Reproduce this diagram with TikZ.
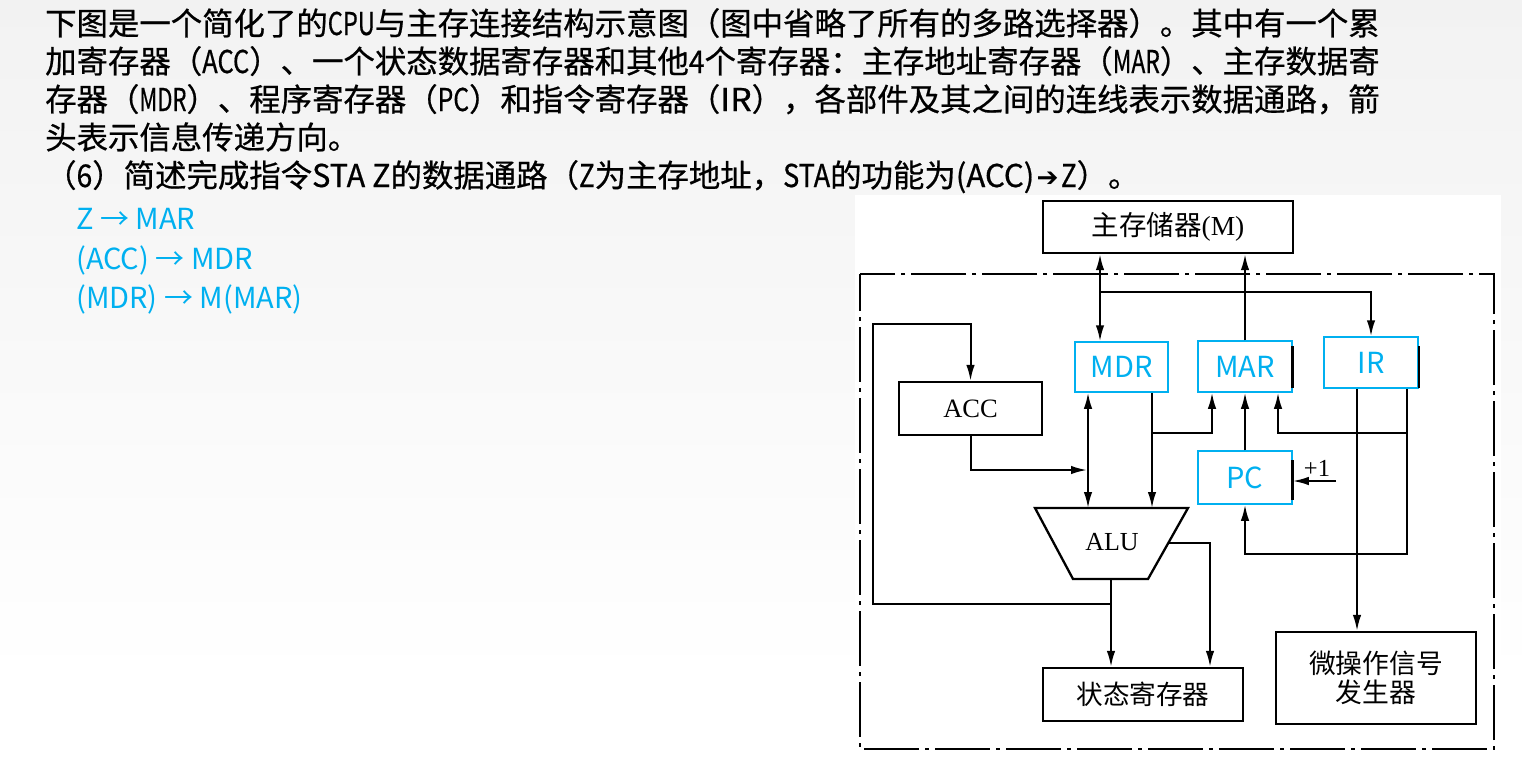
\documentclass[tikz,border=0pt]{standalone}
\usepackage{fontspec}
\usepackage{graphicx}
\setmainfont{Liberation Serif}
\newfontfamily\cjk{Noto Sans CJK SC}
\newfontfamily\cjkb[FakeBold=0.6]{Noto Sans CJK SC}
\newfontfamily\djv{DejaVu Sans}
\usetikzlibrary{arrows.meta}
\definecolor{cy}{HTML}{00B0F0}
\definecolor{bgtop}{HTML}{F2F2F2}
\newcommand{\hw}[2]{\resizebox{#1em}{\height}{#2}}
\tikzset{
  headline/.style={anchor=base west, inner sep=0pt, text=black, font=\cjkb\fontsize{31.4pt}{38pt}\selectfont},
  answer/.style={anchor=base west, inner sep=0pt, text=cy, font=\cjk\fontsize{29pt}{32pt}\selectfont},
  blk/.style={draw=black, line width=2.3pt, inner sep=0pt, fill=white},
  cbox/.style={draw=cy, line width=1.5pt, inner sep=0pt, text=cy, font=\cjk\fontsize{29pt}{30pt}\selectfont},
  wire/.style={line width=2pt, line join=miter},
  arr/.style={wire, -{Latex[length=16pt,width=8.5pt]}},
  darr/.style={wire, {Latex[length=16pt,width=8.5pt]}-{Latex[length=16pt,width=8.5pt]}},
  frame/.style={line width=2.3pt, dash pattern=on 55pt off 6pt on 4pt off 6pt, dash phase=18pt},
  tick/.style={line width=2.6pt}
}
\begin{document}
\begin{tikzpicture}[x=1pt,y=-1pt]
\useasboundingbox (0,0) rectangle (1522,763);
% background
\shade[top color=bgtop, bottom color=white] (0,0) rectangle (1522,680);
\fill[white] (0,680) rectangle (1522,763);
\fill[white] (855,195) rectangle (1501,763);

% heading text
\node[headline] (t1) at (45,35) {下图是一个简化了的\hw{1.5}{CPU}与主存连接结构示意图（图中省略了所有的多路选择器）。其中有一个累};
\node[headline] (t2) at (45,73) {加寄存器（\hw{1.5}{ACC}）、一个状态数据寄存器和其他\hw{0.5}{4}个寄存器：主存地址寄存器（\hw{1.5}{MAR}）、主存数据寄};
\node[headline] (t3) at (45,111) {存器（\hw{1.5}{MDR}）、程序寄存器（\hw{1}{PC}）和指令寄存器（\hw{1}{IR}），各部件及其之间的连线表示数据通路，箭};
\node[headline] (t4) at (45,149) {头表示信息传递方向。};
\node[headline] (t5) at (45,187) {（\hw{0.5}{6}）简述完成指令\hw{2.5}{STA Z}的数据通路（\hw{0.5}{Z}为主存地址，\hw{1.5}{STA}的功能为\hw{2.5}{(ACC)}\makebox[0.85em]{\raisebox{1pt}{\resizebox{0.7em}{!}{\djv ➔}}}\hw{0.5}{Z}）。};

% answer text
\node[answer] (a1) at (76,229.5) {Z → MAR};
\node[answer] (a2) at (76,269) {(ACC) → MDR};
\node[answer] (a3) at (76,308) {(MDR) → M(MAR)};

% CPU frame
\draw[frame] (860,274) rectangle (1494,749);

% components
\node[blk, minimum width=250pt, minimum height=52pt, font=\fontsize{27.5pt}{30pt}\selectfont] (mem) at (1168,227) {{\cjk 主存储器}(M)};
\node[cbox, minimum width=93pt, minimum height=50pt] (mdr) at (1121.5,367) {MDR};
\node[cbox, minimum width=94pt, minimum height=51pt] (mar) at (1245,366.5) {MAR};
\node[cbox, minimum width=94pt, minimum height=51pt] (ir) at (1371,362.5) {IR};
\node[cbox, minimum width=94pt, minimum height=53pt] (pc) at (1245,477.5) {PC};
\node[blk, minimum width=143pt, minimum height=53pt, font=\fontsize{26.5pt}{30pt}\selectfont] (acc) at (970.5,408.5) {ACC};
\node[blk, minimum width=200pt, minimum height=53pt, font=\cjk\fontsize{26.6pt}{30pt}\selectfont] (st) at (1143,694.5) {状态寄存器};
\node[blk, minimum width=200pt, minimum height=92pt, align=center, font=\cjk\fontsize{26.8pt}{29.5pt}\selectfont] (uop) at (1376,678) {微操作信号\\发生器};
\draw[line width=2.3pt, line join=miter] (1035,508) -- (1188,508) -- (1148,579) -- (1073,579) -- cycle;
\node[inner sep=0pt, font=\fontsize{26pt}{30pt}\selectfont] (alu) at (1112,542) {ALU};
\node[inner sep=0pt, font=\fontsize{24.5pt}{28pt}\selectfont] (plus) at (1317,468) {+1};

% small black edge marks
\draw[tick] (mar.east |- 0,346) coordinate (m1) -- (mar.east |- 0,388) coordinate (m2);
\draw[tick] (1419,346) coordinate (m3) -- (1419,388) coordinate (m4);
\draw[tick] (pc.east |- 0,460) coordinate (m5) -- (pc.east |- 0,500) coordinate (m6);

% coordinates
\coordinate (bus) at (1100,292);
\coordinate (ma) at (1088,508);
\coordinate (accin) at (1087,470);
\coordinate (mb) at (1152,508);
\coordinate (jb) at (1152,433);
\coordinate (xa) at (1212,0);
\coordinate (ira) at (1407,554);
\coordinate (jc) at (1407,433);
\coordinate (xb) at (1278,0);
\coordinate (xc) at (1357,0);
\coordinate (inc) at (1336,481);
\coordinate (aluo) at (1111,579);
\coordinate (jd) at (1111,604);
\coordinate (lp) at (873,324);
\coordinate (alur) at (1168,543);
\coordinate (xd) at (1210,0);

% connectors
\draw[darr] (mem.south -| bus) -- (mdr.north -| bus);
\draw[arr] (bus) -| (ir.north);
\draw[arr] (mar.north) -- (mem.south -| mar.north);
\draw[darr] (mdr.south -| ma) -- (ma);
\draw[arr] (acc.south) |- (accin);
\draw[arr] (mdr.south -| mb) -- (mb);
\draw[arr] (jb) -| (mar.south -| xa);
\draw[arr] (pc.north) -- (mar.south);
\draw[arr] (ir.south -| ira) -- (ira) -| (pc.south);
\draw[arr] (jc) -| (mar.south -| xb);
\draw[arr] (ir.south -| xc) -- (uop.north -| xc);
\draw[arr] (inc) -- (pc.east |- inc);
\draw[arr] (aluo) -- (st.north -| aluo);
\draw[arr] (jd) -| (lp) -| (acc.north);
\draw[arr] (alur) -| (st.north -| xd);
\end{tikzpicture}
\end{document}
